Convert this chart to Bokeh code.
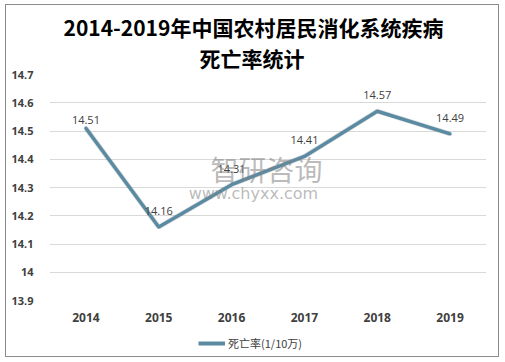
from bokeh.plotting import figure
from bokeh.layouts import column
from bokeh.models import (ColumnDataSource, FactorRange, Range1d, FixedTicker, Title,
                          Legend, LegendItem, Label)
from bokeh.core.properties import value
from bokeh.embed import file_html
from bokeh.resources import INLINE

# ---- data ----
years = ["2014", "2015", "2016", "2017", "2018", "2019"]
rates = [14.51, 14.16, 14.31, 14.41, 14.57, 14.49]
rate_labels = ["14.51", "14.16", "14.31", "14.41", "14.57", "14.49"]
y_ticks = [13.9, 14.0, 14.1, 14.2, 14.3, 14.4, 14.5, 14.6, 14.7]
y_tick_labels = ["13.9", "14", "14.1", "14.2", "14.3", "14.4", "14.5", "14.6", "14.7"]
series_name = "死亡率(1/10万)"
title_line1 = "2014-2019年中国农村居民消化系统疾病"
title_line2 = "死亡率统计"

# label offsets (style)
label_dy = [-8, -16, -16, -16, -16, -16]

LINE_COLOR = "#5A8BA3"
TEXT_COLOR = "#404040"
GRID_COLOR = "#D9D9D9"

p = figure(width=492, height=323, output_backend="svg", toolbar_location=None,
           x_range=FactorRange(*years, range_padding=0),
           y_range=Range1d(13.9, 14.7),
           min_border_left=43, min_border_right=12, min_border_top=69, min_border_bottom=28)
p.title = None
p.outline_line_color = None
p.background_fill_color = "white"
p.border_fill_color = "white"

# titles (first added is closest to plot)
t2 = Title(text=title_line2, align="left", offset=150, text_font="Noto Sans CJK SC",
           text_font_size="21px", text_font_style="bold", text_color="#000000", standoff=4)
t1 = Title(text=title_line1, align="left", offset=14, text_font="Noto Sans CJK SC",
           text_font_size="21px", text_font_style="bold", text_color="#000000", standoff=-7)
p.add_layout(t2, "above")
p.add_layout(t1, "above")

# axes
p.yaxis.ticker = FixedTicker(ticks=y_ticks)
p.yaxis.major_label_overrides = {t_: l for t_, l in zip(y_ticks, y_tick_labels)}
p.yaxis.axis_line_color = None
p.yaxis.major_tick_line_color = None
p.yaxis.minor_tick_line_color = None
p.yaxis.major_label_text_font = "Noto Sans"
p.yaxis.major_label_text_font_size = "11px"
p.yaxis.major_label_text_font_style = "bold"
p.yaxis.major_label_text_color = TEXT_COLOR
p.yaxis.major_label_standoff = 10

p.xaxis.axis_line_color = None
p.xaxis.major_tick_line_color = None
p.xaxis.minor_tick_line_color = None
p.xaxis.major_label_text_font = "Noto Sans"
p.xaxis.major_label_text_font_size = "12px"
p.xaxis.major_label_text_font_style = "bold"
p.xaxis.major_label_text_color = TEXT_COLOR
p.xaxis.major_label_standoff = 6

p.xgrid.grid_line_color = None
p.ygrid.grid_line_color = GRID_COLOR
p.ygrid.grid_line_width = 1

src = ColumnDataSource(dict(x=years, y=rates, lab=rate_labels, dy=label_dy))

# watermark
p.add_layout(Label(x=2.98, y=14.364, text="智研咨询", text_font="Noto Sans CJK SC",
                   text_font_size="28px", text_color="#808080", text_alpha=0.55,
                   text_align="center", text_baseline="middle"))
p.add_layout(Label(x=2.80, y=14.279, text="www.chyxx.com", text_font="DejaVu Sans",
                   text_font_size="16px", text_color="#808080", text_alpha=0.55,
                   text_align="center", text_baseline="middle"))

# shadow + line
p.line(x="x", y="y", source=src, line_color="#000000", line_alpha=0.12, line_width=5)
p.line(x="x", y="y", source=src, line_color=LINE_COLOR, line_width=3.5,
       line_join="round", line_cap="round")

p.text(x="x", y="y", text="lab", y_offset="dy", source=src, text_align="center",
       text_baseline="middle", text_font=value("Open Sans"), text_font_size="11px",
       text_color=TEXT_COLOR)

# legend strip (separate small figure below the chart)
lg = figure(width=492, height=28, output_backend="svg", toolbar_location=None,
            x_range=Range1d(0, 1), y_range=Range1d(0, 1),
            x_axis_location=None, y_axis_location=None,
            min_border=0, min_border_left=0, min_border_right=0,
            min_border_top=0, min_border_bottom=0)
lg.grid.visible = False
lg.outline_line_color = None
lg.border_fill_color = "white"
legend_src = ColumnDataSource(dict(x=[None], y=[None]))
lr = lg.line(x="x", y="y", source=legend_src, line_color=LINE_COLOR, line_width=4)
legend = Legend(items=[LegendItem(label=series_name, renderers=[lr])],
                location=(149, 5), orientation="horizontal",
                label_text_font="Noto Sans CJK SC", label_text_font_size="11px",
                label_text_color=TEXT_COLOR, glyph_width=27, glyph_height=12,
                border_line_color=None, background_fill_alpha=0,
                padding=2, margin=0, label_standoff=3)
lg.add_layout(legend, "center")

layout = column(p, lg, spacing=0, margin=(4, 0, 0, 5),
                styles={"border": "1px solid #8c8c8c"})
open("out.html", "w").write(file_html(layout, INLINE))
